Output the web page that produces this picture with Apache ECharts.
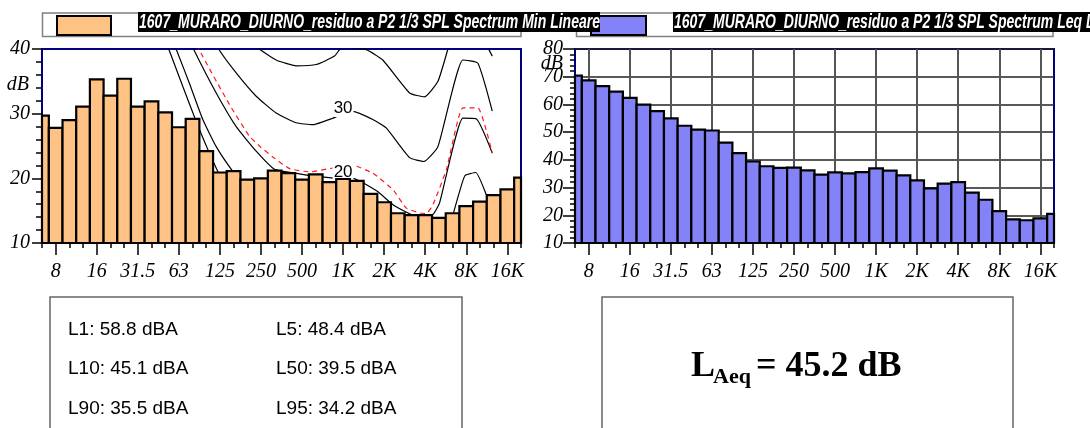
<!DOCTYPE html>
<html>
<head>
<meta charset="utf-8">
<script src="https://cdn.jsdelivr.net/npm/echarts@6.0.0/dist/echarts.min.js"></script>
<style>
  html, body { margin: 0; padding: 0; background: #fff; }
  #chart { width: 1090px; height: 428px; }
</style>
</head>
<body>
<div id="chart"></div>
<script>
  // 1/3 octave bands, 6.3 Hz .. 20 kHz
  const bands = ['6.3', '8', '10', '12.5', '16', '20', '25', '31.5', '40', '50',
    '63', '80', '100', '125', '160', '200', '250', '315', '400', '500',
    '630', '800', '1K', '1.25K', '1.6K', '2K', '2.5K', '3.15K', '4K', '5K',
    '6.3K', '8K', '10K', '12.5K', '16K', '20K']

  const minLineare = [29.7, 27.8, 29.0, 31.1, 35.3, 32.8, 35.4, 31.1, 31.9, 30.2,
    27.9, 29.2, 24.2, 20.9, 21.1, 19.8, 20.0, 21.2, 20.8, 19.8,
    20.6, 19.4, 19.9, 19.6, 17.6, 16.3, 14.6, 14.3, 14.3, 13.9,
    14.6, 15.7, 16.4, 17.4, 18.3, 20.1]

  const leqLineare = [70.4, 68.7, 66.6, 64.6, 62.4, 59.9, 57.6, 55.0, 52.3, 50.9,
    50.6, 46.2, 42.4, 39.4, 37.7, 37.1, 37.2, 36.2, 34.7, 35.5,
    35.1, 35.6, 36.9, 36.1, 34.4, 32.6, 29.7, 31.4, 32.0, 28.2,
    25.6, 21.5, 18.5, 18.2, 18.9, 20.5]

  // contour curves, [band index, dB]
  const curve0 = [[8.9, 42], [9.26, 40], [10.29, 34.2], [11.51, 27.5], [12.84, 21.1], [14, 17], [15.5, 13], [17, 10]]
  const curve10 = [[9.4, 42], [9.8, 40], [10.77, 34.7], [11.75, 29.1], [12.73, 24.9], [13.9, 21.2], [15.5, 17], [17, 14],
    [19, 12], [22, 10], [25, 8], [28, 6], [29.4, 10], [30.3, 16.4], [30.9, 20.4], [31.7, 20.9], [32.5, 17.3], [32.9, 15.5]]
  const curve20 = [[10.7, 42], [11.07, 40], [12.73, 33.2], [14.19, 28.0], [15.65, 24.2], [16.99, 21.4], [18.5, 20.8],
    [20, 20.3], [22, 20.0], [22.71, 20.0], [24.5, 18.0], [25.6, 16.0], [26.6, 14.8], [27.5, 14.0], [28.56, 14.4],
    [29.05, 16.2], [30.75, 29.3], [31.73, 29.2], [32.9, 23.9]]
  const curveRed = [[11.2, 42], [11.46, 40], [13.7, 31.4], [15.16, 26.5], [15.89, 25.0], [16.87, 23.3], [18.09, 21.5],
    [19.55, 21.0], [21.25, 21.6], [22.71, 22.0], [24.17, 20.8], [25.64, 18.25], [26.62, 15.4], [27.59, 14.65],
    [28.08, 14.55], [28.56, 15.9], [29.54, 21.3], [30.75, 30.9], [31.85, 30.9], [32.9, 23.9]]
  const curve30 = [[12.5, 43], [12.92, 40], [14.19, 36.3], [15.65, 32.7], [17.11, 30.1], [18.57, 28.6], [19.79, 28.3],
    [21.25, 29.3], [22.0, 30.0], [22.71, 30.35], [24.17, 29.1], [25.15, 27.8], [26.86, 23.2], [27.9, 22.6],
    [28.93, 24.9], [30.75, 38.3], [31.85, 37.8], [32.9, 30.4]]
  const curve40 = [[15.6, 41], [15.89, 40], [17.11, 38.3], [18.57, 37.4], [20.04, 37.6], [21.37, 38.9], [22.0, 40.5],
    [22.7, 40.2], [23.7, 39.9], [24.9, 38.3], [26.86, 33.2], [27.95, 32.6], [28.93, 35.0], [29.66, 40],
    [30.75, 48], [31.85, 48], [32.65, 40], [32.9, 38.9]]
  const curveLabels = [[22, 30.8, '30'], [22, 21.0, '20']]

  const legendNames = ['1607_MURARO_DIURNO_residuo a P2 1/3 SPL Spectrum Min Lineare',
    '1607_MURARO_DIURNO_residuo a P2 1/3 SPL Spectrum Leq Lineare']
  const percentiles = [['L1: 58.8 dBA', 'L5: 48.4 dBA'], ['L10: 45.1 dBA', 'L50: 39.5 dBA'], ['L90: 35.5 dBA', 'L95: 34.2 dBA']]
  const laeq = '45.2'

  const orange = '#ffc285'
  const blue = '#8383f7'
  const navy = '#000080'
  const yMin = 10

  let isOctave = function (i) { return i % 3 === 1 }

  let serifLabel = {
    fontFamily: 'Liberation Serif',
    fontStyle: 'italic',
    fontSize: 20,
    color: '#000'
  }
  let tickLine = { color: '#000', width: 1.5 }

  function barItem (fill) {
    return function (params, api) {
      let i = api.value(0)
      let v = api.value(1)
      let a = api.coord([i - 0.5, v])
      let b = api.coord([i + 0.5, yMin])
      let cs = params.coordSys
      let shape = echarts.graphic.clipRectByRect(
        { x: a[0], y: a[1], width: b[0] - a[0], height: b[1] - a[1] },
        { x: cs.x, y: cs.y, width: cs.width, height: cs.height })
      if (!shape) return
      return { type: 'rect', shape: shape, style: { fill: fill, stroke: '#000', lineWidth: 2.2 } }
    }
  }

  function minorAxis (g) {
    return {
      type: 'value', gridIndex: g, min: 0, max: 35, interval: 1, position: 'bottom',
      axisLine: { show: false },
      axisLabel: { show: false },
      splitLine: { show: false },
      axisTick: { show: true, length: 5, lineStyle: tickLine }
    }
  }

  function majorAxis (g, withGrid) {
    return {
      type: 'category', gridIndex: g, data: bands, boundaryGap: false, position: 'bottom',
      axisLine: { show: false },
      axisTick: { show: true, interval: isOctave, length: 12, lineStyle: tickLine },
      axisLabel: Object.assign({ interval: isOctave, margin: 19 }, serifLabel),
      splitLine: { show: withGrid, interval: isOctave, lineStyle: { color: '#555', width: 2 } }
    }
  }

  function contour (data, color, type) {
    return {
      type: 'line', xAxisIndex: 0, yAxisIndex: 0, data: data,
      showSymbol: false, smooth: 0.15, silent: true, z: 1, clip: true,
      lineStyle: { color: color, width: 1.2, type: type }
    }
  }

  // squeeze the legend text like the original
  let legendFont = 'italic bold 21px "Liberation Sans"'
  let ctx = document.createElement('canvas').getContext('2d')
  ctx.font = legendFont
  let legendScale = 461 / ctx.measureText(legendNames[0]).width

  let graphics = [
    { type: 'rect', shape: { x: 42.5, y: 13, width: 478.5, height: 23.5 }, style: { fill: '#fff', stroke: '#808080', lineWidth: 1.5 } },
    { type: 'rect', shape: { x: 576.5, y: 13, width: 476.5, height: 23.5 }, style: { fill: '#fff', stroke: '#808080', lineWidth: 1.5 } },
    { type: 'rect', shape: { x: 57, y: 16, width: 54, height: 19 }, style: { fill: orange, stroke: '#000', lineWidth: 2 } },
    { type: 'rect', shape: { x: 591, y: 16, width: 55, height: 19 }, style: { fill: blue, stroke: '#000', lineWidth: 2 } },
    { type: 'rect', shape: { x: 138, y: 12, width: 462, height: 20 }, style: { fill: '#000' } },
    { type: 'text', x: 139, y: 22.5, scaleX: legendScale, style: { text: legendNames[0], fill: '#fff', font: legendFont, verticalAlign: 'middle' } },
    { type: 'rect', shape: { x: 673, y: 12, width: 420, height: 20 }, style: { fill: '#000' } },
    { type: 'text', x: 674, y: 22.5, scaleX: legendScale, style: { text: legendNames[1], fill: '#fff', font: legendFont, verticalAlign: 'middle' } },
    { type: 'text', x: 29, y: 85, style: { text: 'dB', fill: '#000', font: 'italic 20px "Liberation Serif"', align: 'right', verticalAlign: 'middle' } },
    { type: 'text', x: 563, y: 64, style: { text: 'dB', fill: '#000', font: 'italic 20px "Liberation Serif"', align: 'right', verticalAlign: 'middle' } },
    { type: 'rect', shape: { x: 50, y: 297, width: 412, height: 140 }, style: { fill: '#fff', stroke: '#666', lineWidth: 1.5 } },
    { type: 'rect', shape: { x: 602, y: 297, width: 411, height: 140 }, style: { fill: '#fff', stroke: '#666', lineWidth: 1.5 } },
    { type: 'text', x: 691, y: 367, style: { text: 'L', fill: '#000', font: 'bold 36px "Liberation Serif"', verticalAlign: 'middle' } },
    { type: 'text', x: 713, y: 377, style: { text: 'Aeq', fill: '#000', font: 'bold 22px "Liberation Serif"', verticalAlign: 'middle' } },
    { type: 'text', x: 756, y: 367, style: { text: '= ' + laeq + ' dB', fill: '#000', font: 'bold 36px "Liberation Serif"', verticalAlign: 'middle' } }
  ]
  let rowY = [330, 369, 409]
  percentiles.forEach(function (row, r) {
    graphics.push({ type: 'text', x: 68, y: rowY[r], style: { text: row[0], fill: '#000', font: '19px "Liberation Sans"', verticalAlign: 'middle' } })
    graphics.push({ type: 'text', x: 276, y: rowY[r], style: { text: row[1], fill: '#000', font: '19px "Liberation Sans"', verticalAlign: 'middle' } })
  })

  let myChart = echarts.init(document.getElementById('chart'))
  let option = {
    animation: false,
    backgroundColor: '#fff',
    grid: [
      { left: 42, top: 49, width: 479, height: 194, show: true, borderColor: navy, borderWidth: 2, backgroundColor: '#fff', outerBoundsMode: 'none' },
      { left: 575, top: 49, width: 479, height: 194, show: true, borderColor: navy, borderWidth: 2, backgroundColor: '#fff', outerBoundsMode: 'none' }
    ],
    xAxis: [minorAxis(0), majorAxis(0, false), minorAxis(1), majorAxis(1, true)],
    yAxis: [
      {
        type: 'value', gridIndex: 0, min: 10, max: 40, interval: 10,
        axisLine: { show: false },
        axisTick: { show: true, length: 10, lineStyle: tickLine },
        minorTick: { show: true, splitNumber: 5, length: 6, lineStyle: tickLine },
        axisLabel: Object.assign({ margin: 12 }, serifLabel),
        splitLine: { show: false }
      },
      {
        type: 'value', gridIndex: 1, min: 10, max: 80, interval: 10,
        axisLine: { show: false },
        axisTick: { show: true, length: 12, lineStyle: tickLine },
        minorTick: { show: true, splitNumber: 5, length: 5, lineStyle: tickLine },
        axisLabel: Object.assign({ margin: 12 }, serifLabel),
        splitLine: { show: true, lineStyle: { color: '#222', width: 1.5 } }
      }
    ],
    series: [
      contour(curve0, '#000', 'solid'),
      contour(curve10, '#000', 'solid'),
      contour(curve20, '#000', 'solid'),
      contour(curveRed, '#ff1a1a', [5, 4]),
      contour(curve30, '#000', 'solid'),
      contour(curve40, '#000', 'solid'),
      {
        type: 'scatter', xAxisIndex: 0, yAxisIndex: 0, z: 2, silent: true,
        symbolSize: 1,
        itemStyle: { color: 'rgba(0,0,0,0)', opacity: 1 },
        data: curveLabels.map(function (d) { return { value: [d[0], d[1]], name: d[2] } }),
        label: {
          show: true, position: 'inside', opacity: 1,
          formatter: function (p) { return p.name },
          fontFamily: 'Liberation Sans', fontSize: 17, color: '#000',
          backgroundColor: '#fff', padding: [0, 1]
        }
      },
      {
        type: 'custom', xAxisIndex: 0, yAxisIndex: 0, z: 3,
        renderItem: barItem(orange),
        data: minLineare.map(function (v, i) { return [i, v] })
      },
      {
        type: 'custom', xAxisIndex: 2, yAxisIndex: 1, z: 3,
        renderItem: barItem(blue),
        data: leqLineare.map(function (v, i) { return [i, v] })
      }
    ],
    graphic: graphics
  }
  myChart.setOption(option)
</script>
</body>
</html>
